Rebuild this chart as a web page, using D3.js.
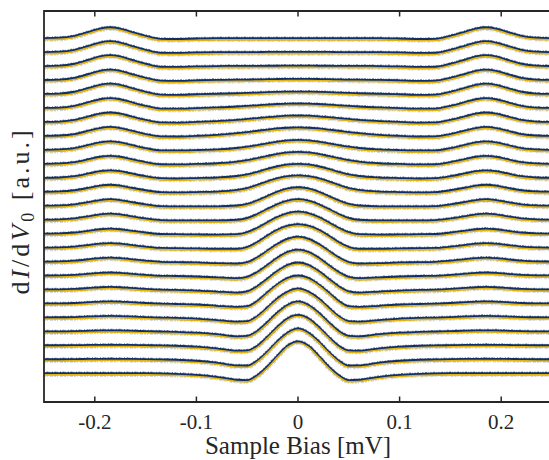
<!DOCTYPE html>
<html>
<head>
<meta charset="utf-8">
<title>dI/dV waterfall</title>
<style>
  body { margin: 0; background: #fff; }
  svg { display: block; }
  text { font-family: "Liberation Serif", "DejaVu Serif", serif; fill: #262626; }
</style>
</head>
<body>
<script src="https://cdn.jsdelivr.net/npm/d3@7"></script>
<script>
// sample bias [mV], shared by every spectrum
var bias = [-0.25,-0.235,-0.22,-0.205,-0.195,-0.185,-0.175,-0.165,-0.15,-0.135,-0.12,-0.10,-0.08,-0.06,-0.05,-0.04,-0.03,-0.02,-0.01,0,
            0.01,0.02,0.03,0.04,0.05,0.06,0.08,0.10,0.12,0.135,0.15,0.165,0.175,0.185,0.195,0.205,0.22,0.235,0.25];

// dI/dV [a.u.], top spectrum first (before stacking offset)
var spectra = [
  [0.1,0.5,2.4,6.7,9.7,11,9.7,6.7,2.4,-0.6,-0.8,-0.3,0,0,0,0,0,0,0,0,0,0,0,0,0,0,0,-0.3,-0.8,-0.6,2.4,6.7,9.7,11,9.7,6.7,2.4,0.5,0.1],
  [0.1,0.5,2.4,6.7,9.7,11,9.7,6.7,2.4,-0.6,-0.8,-0.3,0,0.1,0.1,0.1,0.2,0.2,0.2,0.2,0.2,0.2,0.2,0.1,0.1,0.1,0,-0.3,-0.8,-0.6,2.4,6.7,9.7,11,9.7,6.7,2.4,0.5,0.1],
  [0.1,0.5,2.4,6.7,9.7,11,9.7,6.7,2.4,-0.6,-0.8,-0.3,0.1,0.2,0.2,0.3,0.4,0.4,0.5,0.5,0.5,0.4,0.4,0.3,0.2,0.2,0.1,-0.3,-0.8,-0.6,2.4,6.7,9.7,11,9.7,6.7,2.4,0.5,0.1],
  [0.1,0.5,2.3,6.4,9.3,10.5,9.3,6.4,2.3,-0.6,-0.8,-0.2,0.2,0.4,0.5,0.7,0.9,1.1,1.2,1.2,1.2,1.1,0.9,0.7,0.5,0.4,0.2,-0.2,-0.8,-0.6,2.3,6.4,9.3,10.5,9.3,6.4,2.3,0.5,0.1],
  [0.1,0.5,2.3,6.4,9.3,10.5,9.3,6.4,2.3,-0.6,-0.8,-0.2,0.3,0.8,1.1,1.5,1.9,2.2,2.4,2.5,2.4,2.2,1.9,1.5,1.1,0.8,0.3,-0.2,-0.8,-0.6,2.3,6.4,9.3,10.5,9.3,6.4,2.3,0.5,0.1],
  [0.1,0.4,2.2,6.1,8.8,10,8.8,6.1,2.2,-0.6,-0.7,-0.1,0.6,1.5,2.1,2.7,3.4,4.0,4.4,4.5,4.4,4.0,3.4,2.7,2.1,1.5,0.6,-0.1,-0.7,-0.6,2.2,6.1,8.8,10,8.8,6.1,2.2,0.4,0.1],
  [0,0.4,2.1,5.8,8.4,9.5,8.4,5.8,2.1,-0.5,-0.6,0,0.9,2.1,3.0,3.9,4.9,5.7,6.3,6.5,6.3,5.7,4.9,3.9,3.0,2.1,0.9,0,-0.6,-0.5,2.1,5.8,8.4,9.5,8.4,5.8,2.1,0.4,0],
  [0,0.4,1.9,5.5,7.9,9,7.9,5.5,1.9,-0.5,-0.6,0.1,1.1,2.8,3.9,5.2,6.4,7.5,8.2,8.5,8.2,7.5,6.4,5.2,3.9,2.8,1.1,0.1,-0.6,-0.5,1.9,5.5,7.9,9,7.9,5.5,1.9,0.4,0],
  [0,0.4,1.8,5.2,7.5,8.5,7.5,5.2,1.8,-0.5,-0.6,-0.2,0.5,1.9,3.2,4.8,6.6,8.3,9.5,10,9.5,8.3,6.6,4.8,3.2,1.9,0.5,-0.2,-0.6,-0.5,1.8,5.2,7.5,8.5,7.5,5.2,1.8,0.4,0],
  [0,0.4,1.7,4.9,7.1,8,7.1,4.9,1.7,-0.4,-0.6,-0.1,0.6,2.3,3.8,5.8,7.9,10.0,11.5,12,11.5,10.0,7.9,5.8,3.8,2.3,0.6,-0.1,-0.6,-0.4,1.7,4.9,7.1,8,7.1,4.9,1.7,0.4,0],
  [0,0.3,1.6,4.6,6.6,7.5,6.6,4.6,1.6,-0.4,-0.7,-0.3,0.3,1.8,3.4,6.0,9.0,11.6,13.4,14,13.4,11.6,9.0,6.0,3.4,1.8,0.3,-0.3,-0.7,-0.4,1.6,4.6,6.6,7.5,6.6,4.6,1.6,0.3,0],
  [0,0.3,1.5,4.2,6.2,7,6.2,4.2,1.5,-0.4,-0.6,-0.3,0.2,1.9,3.7,6.9,10.5,13.6,15.7,16.5,15.7,13.6,10.5,6.9,3.7,1.9,0.2,-0.3,-0.6,-0.4,1.5,4.2,6.2,7,6.2,4.2,1.5,0.3,0],
  [0,0.3,1.4,3.9,5.7,6.5,5.7,3.9,1.4,-0.4,-0.6,-0.6,-0.6,0.2,1.8,5.3,9.8,14.2,17.3,18.5,17.3,14.2,9.8,5.3,1.8,0.2,-0.6,-0.6,-0.6,-0.4,1.4,3.9,5.7,6.5,5.7,3.9,1.4,0.3,0],
  [0,0.3,1.3,3.6,5.3,6,5.3,3.6,1.3,-0.4,-0.7,-0.7,-0.8,-0.1,1.7,5.7,10.8,15.7,19.2,20.5,19.2,15.7,10.8,5.7,1.7,-0.1,-0.8,-0.7,-0.7,-0.4,1.3,3.6,5.3,6,5.3,3.6,1.3,0.3,0],
  [0,0.2,1.1,3.0,4.4,5,4.4,3.0,1.1,-0.4,-0.6,-0.8,-1.0,-0.6,1.5,5.9,11.5,16.8,20.6,22,20.6,16.8,11.5,5.9,1.5,-0.6,-1.0,-0.8,-0.6,-0.4,1.1,3.0,4.4,5,4.4,3.0,1.1,0.2,0],
  [0,0.2,1.0,2.7,4.0,4.5,4.0,2.7,1.0,-0.4,-0.6,-0.8,-1.2,-1.2,0.6,5.5,12.2,18.0,22.0,23.5,22.0,18.0,12.2,5.5,0.6,-1.2,-1.2,-0.8,-0.6,-0.4,1.0,2.7,4.0,4.5,4.0,2.7,1.0,0.2,0],
  [0,0.2,0.9,2.4,3.5,4,3.5,2.4,0.9,-0.3,-0.6,-0.9,-1.7,-2.0,-0.6,4.2,11.0,17.8,22.9,25,22.9,17.8,11.0,4.2,-0.6,-2.0,-1.7,-0.9,-0.6,-0.3,0.9,2.4,3.5,4,3.5,2.4,0.9,0.2,0],
  [0,0.1,0.6,1.8,2.6,3,2.6,1.8,0.6,-0.3,-0.5,-1.0,-1.9,-2.7,-1.3,3.6,10.6,18.1,23.8,26,23.8,18.1,10.6,3.6,-1.3,-2.7,-1.9,-1.0,-0.5,-0.3,0.6,1.8,2.6,3,2.6,1.8,0.6,0.1,0],
  [0,0.1,0.5,1.5,2.2,2.5,2.2,1.5,0.5,-0.2,-0.5,-1.1,-2.1,-3.1,-1.9,3.3,10.9,18.7,24.7,27,24.7,18.7,10.9,3.3,-1.9,-3.1,-2.1,-1.1,-0.5,-0.2,0.5,1.5,2.2,2.5,2.2,1.5,0.5,0.1,0],
  [0,0.1,0.4,1.2,1.8,2,1.8,1.2,0.4,-0.2,-0.6,-1.1,-2.4,-3.4,-2.8,2.5,11.2,19.4,25.6,28,25.6,19.4,11.2,2.5,-2.8,-3.4,-2.4,-1.1,-0.6,-0.2,0.4,1.2,1.8,2,1.8,1.2,0.4,0.1,0],
  [0,0.1,0.3,0.9,1.3,1.5,1.3,0.9,0.3,-0.2,-0.5,-1.2,-2.7,-4.3,-3.8,1.3,10.0,19.2,25.8,29,25.8,19.2,10.0,1.3,-3.8,-4.3,-2.7,-1.2,-0.5,-0.2,0.3,0.9,1.3,1.5,1.3,0.9,0.3,0.1,0],
  [0,0,0.2,0.6,0.9,1,0.9,0.6,0.2,-0.2,-0.6,-1.3,-2.9,-5.0,-4.5,0.4,9.3,19.0,26.7,30,26.7,19.0,9.3,0.4,-4.5,-5.0,-2.9,-1.3,-0.6,-0.2,0.2,0.6,0.9,1,0.9,0.6,0.2,0,0],
  [0,0,0.1,0.3,0.4,0.5,0.4,0.3,0.1,-0.1,-0.5,-1.4,-3.1,-5.4,-5.2,-0.4,8.6,18.7,27.2,30.5,27.2,18.7,8.6,-0.4,-5.2,-5.4,-3.1,-1.4,-0.5,-0.1,0.1,0.3,0.4,0.5,0.4,0.3,0.1,0,0],
  [0,0,0.1,0.3,0.4,0.5,0.4,0.3,0.1,-0.2,-0.5,-1.5,-3.4,-6.2,-6.3,-1.2,7.8,18.3,26.9,31,26.9,18.3,7.8,-1.2,-6.3,-6.2,-3.4,-1.5,-0.5,-0.2,0.1,0.3,0.4,0.5,0.4,0.3,0.1,0,0],
  [0,0,0,0,0,0,0,0,0,-0.2,-0.6,-1.6,-3.6,-6.6,-7.0,-2.0,6.9,17.8,27.8,32,27.8,17.8,6.9,-2.0,-7.0,-6.6,-3.6,-1.6,-0.6,-0.2,0,0,0,0,0,0,0,0,0]
];

var xTicks = [-0.2, -0.1, 0, 0.1, 0.2];
var xTickLabels = ["-0.2", "-0.1", "0", "0.1", "0.2"];
var offsetStep = 14;   // vertical shift between spectra [a.u.]

var width = 549, height = 460;
var plot = {left: 44, right: 552, top: 11, bottom: 402};
var axisColor = "#262626";

spectra.forEach(function(s, i){
    if (s.length !== bias.length) console.error("spectrum " + i + " has " + s.length + " points");
});

var x = d3.scaleLinear().domain([-0.25, 0.25]).range([plot.left, plot.right]);
var y = d3.scaleLinear().domain([-27.6, 364.6]).range([plot.bottom, plot.top]);

var svg = d3.select("body").append("svg")
    .attr("width", width)
    .attr("height", height);

svg.append("clipPath").attr("id", "plotclip")
  .append("rect")
    .attr("x", plot.left).attr("y", plot.top)
    .attr("width", plot.right - plot.left).attr("height", plot.bottom - plot.top);

var n = spectra.length;
var traces = svg.append("g").attr("clip-path", "url(#plotclip)");

function lineFor(offset){
    return d3.line()
        .x(function(d, j){ return x(bias[j]); })
        .y(function(d){ return y(d + offset); })
        .curve(d3.curveMonotoneX);
}

traces.selectAll("g.spec")
    .data(spectra)
    .enter().append("g")
    .attr("class", "spec")
    .each(function(s, i){
        var g = d3.select(this);
        var line = lineFor((n - 1 - i) * offsetStep);
        // faint scatter halo
        g.append("path").attr("d", line(s))
            .attr("fill", "none").attr("stroke", "#8d9bb6")
            .attr("stroke-width", 4.8).attr("stroke-opacity", 0.4)
            .attr("stroke-dasharray", "2 1 1 2 3 1");
        // blue data
        g.append("path").attr("d", line(s))
            .attr("transform", "translate(0,-0.9)")
            .attr("fill", "none").attr("stroke", "#11306a")
            .attr("stroke-width", 2.6);
        g.append("path").attr("d", line(s))
            .attr("transform", "translate(0,-1.1)")
            .attr("fill", "none").attr("stroke", "#11306a")
            .attr("stroke-width", 3.6).attr("stroke-opacity", 0.6)
            .attr("stroke-dasharray", "1 1.5 2 1 0.5 2");
        // yellow data
        g.append("path").attr("d", line(s))
            .attr("transform", "translate(0,0.4)")
            .attr("fill", "none").attr("stroke", "#e2b30d")
            .attr("stroke-width", 1.6);
    });

// axes box (left, top, bottom; right edge falls outside the image)
var axes = svg.append("g")
    .attr("stroke", axisColor).attr("stroke-width", 1.8).attr("fill", "none");
axes.append("line").attr("x1", plot.left).attr("x2", plot.right).attr("y1", plot.bottom).attr("y2", plot.bottom);
axes.append("line").attr("x1", plot.left).attr("x2", plot.right).attr("y1", plot.top).attr("y2", plot.top);
axes.append("line").attr("x1", plot.left).attr("x2", plot.left).attr("y1", plot.top - 0.9).attr("y2", plot.bottom + 0.9);

axes.selectAll("line.tb").data(xTicks).enter().append("line")
    .attr("class", "tb")
    .attr("x1", function(d){ return x(d); }).attr("x2", function(d){ return x(d); })
    .attr("y1", plot.bottom).attr("y2", plot.bottom - 5.5)
    .attr("stroke-width", 1.5);
axes.selectAll("line.tt").data(xTicks).enter().append("line")
    .attr("class", "tt")
    .attr("x1", function(d){ return x(d); }).attr("x2", function(d){ return x(d); })
    .attr("y1", plot.top).attr("y2", plot.top + 5.5)
    .attr("stroke-width", 1.5);

svg.selectAll("text.tick").data(xTicks).enter().append("text")
    .attr("class", "tick")
    .attr("x", function(d){ return x(d); })
    .attr("y", 429)
    .attr("text-anchor", "middle")
    .attr("font-size", 21)
    .text(function(d, i){ return xTickLabels[i]; });

svg.append("text")
    .attr("x", (plot.left + plot.right) / 2)
    .attr("y", 454)
    .attr("text-anchor", "middle")
    .attr("font-size", 25)
    .text("Sample Bias [mV]");

var ylab = svg.append("text")
    .attr("transform", "translate(29," + 211 + ") rotate(-90)")
    .attr("text-anchor", "middle")
    .attr("font-size", 26)
    .attr("letter-spacing", 3);
ylab.append("tspan").text("d");
ylab.append("tspan").attr("font-style", "italic").text("I");
ylab.append("tspan").text("/d");
ylab.append("tspan").attr("font-style", "italic").text("V");
ylab.append("tspan").attr("font-size", 18).attr("dy", 5).text("0");
ylab.append("tspan").attr("dy", -5).text(" [a.u.]");
</script>
</body>
</html>
